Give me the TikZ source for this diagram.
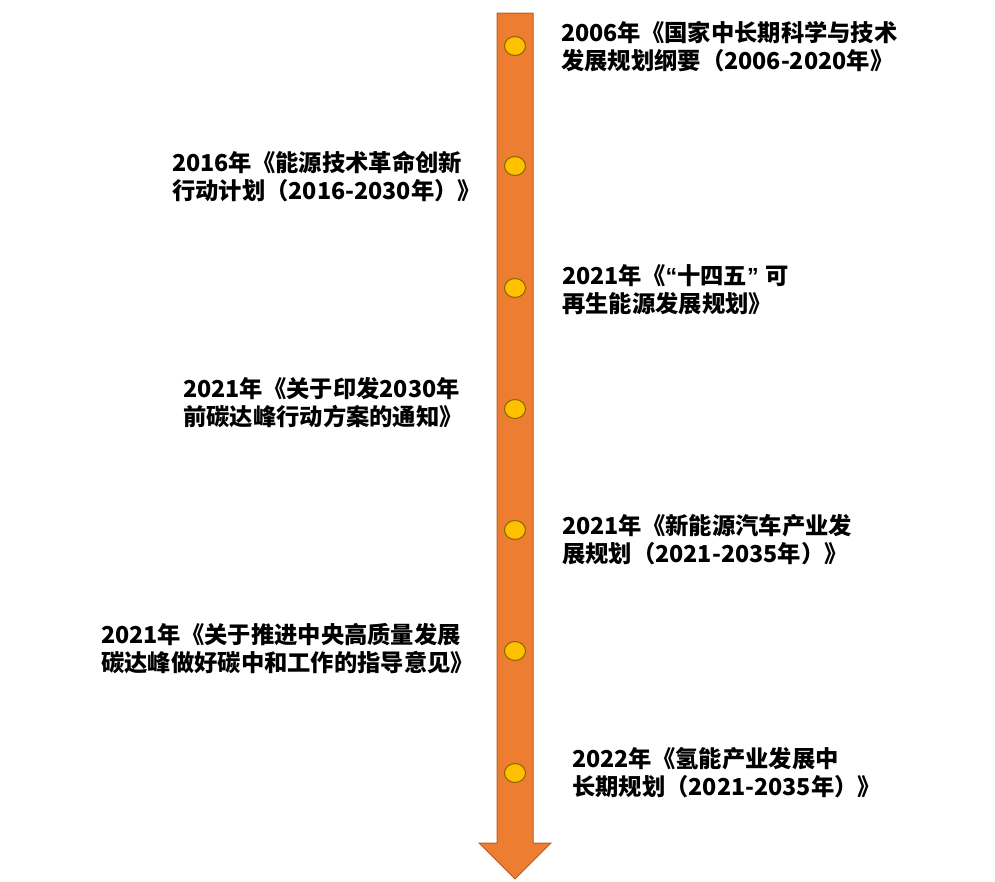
\documentclass[tikz,border=0pt]{standalone}
\usepackage{fontspec}
\usetikzlibrary{shapes.geometric}
\newfontfamily\cjk{Noto Sans CJK SC}
\newfontfamily\lat{Liberation Sans}
\definecolor{shaft}{HTML}{ED7D31}
\definecolor{shaftline}{HTML}{B5602A}
\definecolor{dotfill}{HTML}{FFC000}
\definecolor{dotline}{HTML}{8A6400}
\begin{document}
\begin{tikzpicture}[x=1pt,y=-1pt,
  lbl/.style={anchor=west,inner sep=0pt,align=left,font=\cjk\bfseries\fontsize{23.3}{28}\selectfont,text=black},
  dotmark/.style={ellipse,draw=dotline,fill=dotfill,line width=1pt,minimum width=21pt,minimum height=19pt,inner sep=0pt}]
\useasboundingbox (0,0) rectangle (995,881);
\draw[fill=shaft,draw=shaftline,line width=1pt]
  (497,13) -- (533,13) -- (533,843) -- (551,843) -- (515,879) -- (479,843) -- (497,843) -- cycle;
\foreach \n/\y in {d1/46,d2/166,d3/288,d4/409,d5/530,d6/651,d7/773}
  \node[dotmark] (\n) at (515,\y) {};
\node[lbl] (t1) at (561,47) {2006年《国家中长期科学与技术\\发展规划纲要（2006-2020年》};
\node[lbl] (t2) at (172,177) {2016年《能源技术革命创新\\行动计划（2016-2030年）》};
\node[lbl] (t3) at (562,290) {2021年《{\lat“}十四五{\lat” }可\\再生能源发展规划》};
\node[lbl] (t4) at (183,403) {2021年《关于印发2030年\\前碳达峰行动方案的通知》};
\node[lbl] (t5) at (562,540) {2021年《新能源汽车产业发\\展规划（2021-2035年）》};
\node[lbl] (t6) at (101,649) {2021年《关于推进中央高质量发展\\碳达峰做好碳中和工作的指导意见》};
\node[lbl] (t7) at (572,773) {2022年《氢能产业发展中\\长期规划（2021-2035年）》};
\end{tikzpicture}
\end{document}
